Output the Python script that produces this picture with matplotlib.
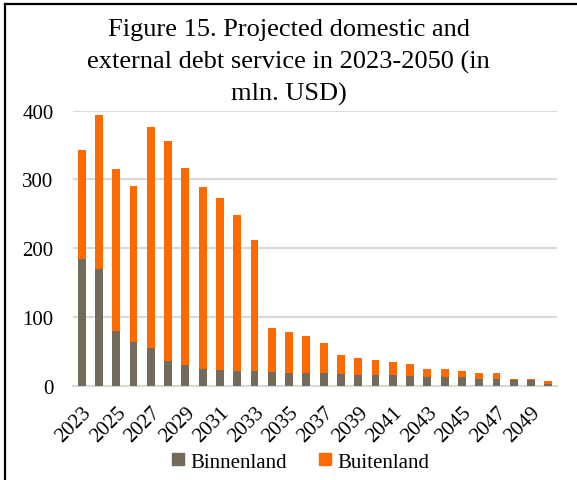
import matplotlib.pyplot as plt
from matplotlib.lines import Line2D
import numpy as np

plt.rcParams['font.family'] = ['Liberation Serif', 'DejaVu Serif']

GRAY = '#736a5c'
ORANGE = '#ff6a00'
GRID = '#d9d9d9'

years = list(range(2023, 2051))
binnenland = [184, 169, 80, 64, 55, 36, 30, 25, 23, 21, 21,
              20, 19, 19, 18, 17, 16, 16, 15, 14, 13, 13, 12, 10, 10,
              9, 8, 2]
totaal = [342, 394, 315, 290, 376, 356, 316, 289, 273, 248, 212,
          84, 78, 72, 62, 45, 41, 37, 35, 31, 25, 24, 21, 19, 18,
          10, 10, 7]
buitenland = [t - b for t, b in zip(totaal, binnenland)]

fig = plt.figure(figsize=(5.77, 4.81), dpi=100)
ax = fig.add_axes([0.1265, 0.196, 0.8388, 0.572])

x = np.arange(len(years))
ax.bar(x, binnenland, width=0.45, color=GRAY, label='Binnenland', zorder=3)
ax.bar(x, buitenland, width=0.45, bottom=binnenland, color=ORANGE,
       label='Buitenland', zorder=3)

ax.set_xlim(-0.5, len(years) - 0.5)
ax.set_ylim(0, 400)
ax.set_yticks([0, 100, 200, 300, 400])
ax.yaxis.grid(True, color=GRID, linewidth=1.5, zorder=0)
ax.set_axisbelow(True)
for side in ['top', 'right', 'left']:
    ax.spines[side].set_visible(False)
ax.spines['bottom'].set_color(GRID)
ax.spines['bottom'].set_linewidth(1.5)

ax.set_xticks(x[::2])
ax.set_xticklabels([str(y) for y in years[::2]], rotation=45, ha='right',
                   rotation_mode='anchor')
ax.tick_params(axis='both', length=0, labelsize=15)
ax.tick_params(axis='y', pad=14)
ax.tick_params(axis='x', pad=12)

fig.text(0.5, 0.961, 'Figure 15. Projected domestic and\n'
         'external debt service in 2023-2050 (in\nmln. USD)',
         ha='center', va='top', fontsize=19, linespacing=1.55)

handles = [Line2D([], [], marker='s', linestyle='', color=GRAY, markersize=8.5),
           Line2D([], [], marker='s', linestyle='', color=ORANGE, markersize=8.5)]
fig.legend(handles, ['Binnenland', 'Buitenland'], loc='center',
           bbox_to_anchor=(0.517, 0.038), ncol=2, frameon=False, fontsize=15,
           handletextpad=0.1, columnspacing=1.3, handlelength=1.0)

# frame lines along the left and top edges
fig.add_artist(Line2D([0.008, 0.008], [0, 0.99], color='black', linewidth=1.6,
                      transform=fig.transFigure))
fig.add_artist(Line2D([0.008, 1], [0.99, 0.99], color='black', linewidth=1.6,
                      transform=fig.transFigure))

plt.savefig('out.png', dpi=100)
